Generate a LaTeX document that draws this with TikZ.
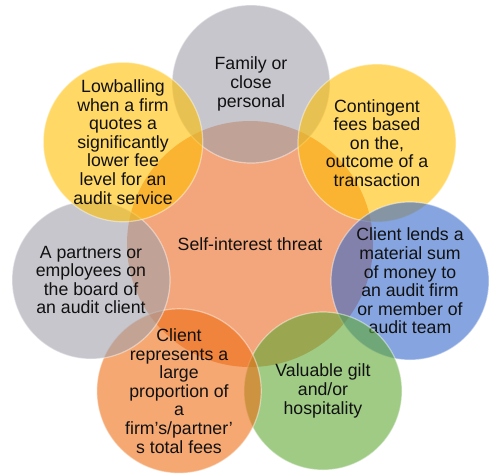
\documentclass[tikz,border=0pt]{standalone}
\usepackage{fontspec}
\setmainfont{Liberation Sans}
\definecolor{ctrorange}{HTML}{F3A67B}
\definecolor{cgray}{HTML}{A0A0AA}
\definecolor{cyellow}{HTML}{FFBE00}
\definecolor{cblue}{HTML}{3569CB}
\definecolor{cgreen}{HTML}{5FA834}
\definecolor{corange}{HTML}{EE6E14}
\definecolor{txt}{HTML}{111111}
\tikzset{
  bubble/.style={circle, minimum size=158pt, inner sep=0pt, fill=#1, fill opacity=0.6,
    draw=white, draw opacity=0.45, line width=1.2pt, text opacity=1, text=txt,
    align=center, font=\fontsize{17.7}{18.6}\selectfont},
  hub/.style={circle, minimum size=246pt, inner sep=0pt, fill=ctrorange, draw=none,
    text=txt, font=\fontsize{17.7}{18.6}\selectfont}
}
\begin{document}
\begin{tikzpicture}[x=1pt,y=1pt]
\useasboundingbox (0,0) rectangle (500,-475);
\node[hub] (hub) at (250,-244) {Self-interest threat};
\node[bubble=cgray] (fam) at (251,-84) {Family or\\close\\personal};
\node[bubble=cyellow] (cont) at (377,-143) {Contingent\\fees based\\on the,\\outcome of a\\transaction};
\node[bubble=cblue] (lend) at (410,-281) {Client lends a\\material sum\\of money to\\an audit firm\\or member of\\audit team};
\node[bubble=cgreen] (gift) at (323,-391) {Valuable gilt\\and/or\\hospitality};
\node[bubble=corange] (prop) at (179,-391) {Client\\represents a\\large\\proportion of\\a\\firm’s/partner’\\s total fees};
\node[bubble=cgray] (board) at (91,-280) {A partners or\\employees on\\the board of\\an audit client};
\node[bubble=cyellow] (low) at (123,-142) {Lowballing\\when a firm\\quotes a\\significantly\\lower fee\\level for an\\audit service};
\end{tikzpicture}
\end{document}
